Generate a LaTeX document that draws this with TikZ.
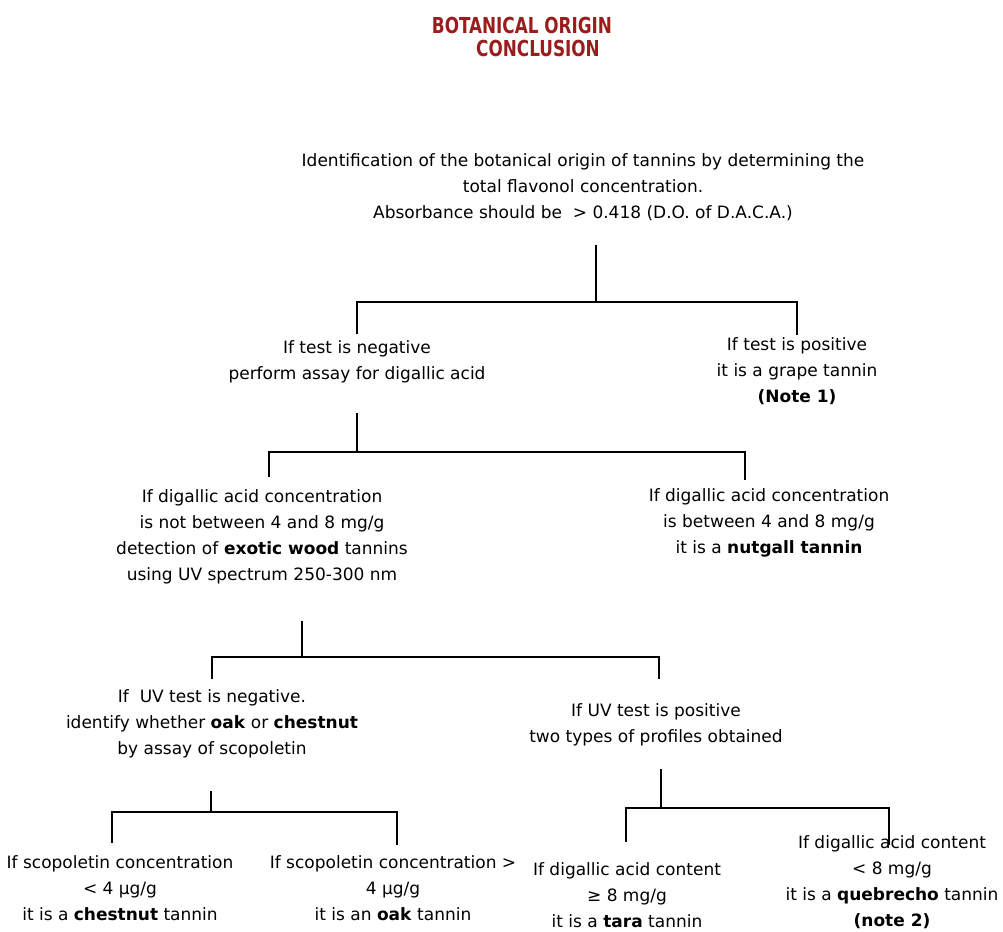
\documentclass[tikz,border=0pt]{standalone}
\usepackage{fontspec}
\setmainfont{DejaVu Sans}
\newfontfamily\titlefont{DejaVu Sans Condensed}
\definecolor{titlered}{HTML}{9A1C1C}
\begin{document}
\begin{tikzpicture}[x=1pt,y=-1pt,
  txt/.style={align=center,inner sep=0pt,font=\fontsize{17}{26}\selectfont},
  ttl/.style={inner sep=0pt,text=titlered,font=\titlefont\bfseries\fontsize{22}{26}\selectfont},
  link/.style={draw=black,line width=1.3pt}]
\useasboundingbox (0,0) rectangle (1003,931);
\node[ttl] (title1) at (522,25) {\scalebox{0.85}[1]{BOTANICAL ORIGIN}};
\node[ttl] (title2) at (538,48) {\scalebox{0.85}[1]{CONCLUSION}};
\node[txt] (top) at (583,187) {Identification of the botanical origin of tannins by determining the\\total flavonol concentration.\\Absorbance should be \ {>} 0.418 (D.O. of D.A.C.A.)};
\node[txt] (neg) at (357,361.5) {If test is negative\\perform assay for digallic acid};
\node[txt] (pos) at (797,371.5) {If test is positive\\it is a grape tannin\\\textbf{(Note 1)}};
\node[txt] (notb) at (262,536.5) {If digallic acid concentration\\is not between 4 and 8 mg/g\\detection of \textbf{exotic wood} tannins\\using UV spectrum 250-300 nm};
\node[txt] (nut) at (769,523) {If digallic acid concentration\\is between 4 and 8 mg/g\\it is a \textbf{nutgall tannin}};
\node[txt] (uvneg) at (212,723.5) {If \ UV test is negative.\\identify whether \textbf{oak} or \textbf{chestnut}\\by assay of scopoletin};
\node[txt] (uvpos) at (656,725) {If UV test is positive\\two types of profiles obtained};
\node[txt] (chest) at (120,888) {If scopoletin concentration\\< 4 µg/g\\it is a \textbf{chestnut} tannin};
\node[txt] (oak) at (393,888) {If scopoletin concentration >\\4 µg/g\\it is an \textbf{oak} tannin};
\node[txt] (tara) at (627,895) {If digallic acid content\\≥ 8 mg/g\\it is a \textbf{tara} tannin};
\node[txt] (queb) at (892,882.5) {If digallic acid content\\< 8 mg/g\\it is a \textbf{quebrecho} tannin\\\textbf{(note 2)}};
% junctions
\coordinate (j1) at (596,302);
\coordinate (j2) at (357,452);
\coordinate (j3) at (302,657);
\coordinate (j4) at (211,812);
\coordinate (j5) at (661,808);
\draw[link] ([yshift=-24pt]top.south -| j1) -- (j1);
\draw[link] ([yshift=6pt]neg.north) |- (j1) -| ([yshift=3pt]pos.north);
\draw[link] ([yshift=-30pt]neg.south -| j2) -- (j2);
\draw[link] ([xshift=7pt,yshift=12pt]notb.north) |- (j2) -| ([xshift=-24pt,yshift=9pt]nut.north);
\draw[link] ([yshift=-37pt]notb.south -| j3) -- (j3);
\draw[link] ([yshift=10pt]uvneg.north) |- (j3) -| ([xshift=3pt,yshift=25pt]uvpos.north);
\draw[link] ([yshift=-33pt]uvneg.south -| j4) -- (j4);
\draw[link] ([xshift=-8pt,yshift=12pt]chest.north) |- (j4) -| ([xshift=4pt,yshift=10pt]oak.north);
\draw[link] ([yshift=-23pt]uvpos.south -| j5) -- (j5);
\draw[link] ([xshift=-1pt,yshift=20pt]tara.north) |- (j5) -| ([xshift=-3pt,yshift=-9pt]queb.north);
\end{tikzpicture}
\end{document}
